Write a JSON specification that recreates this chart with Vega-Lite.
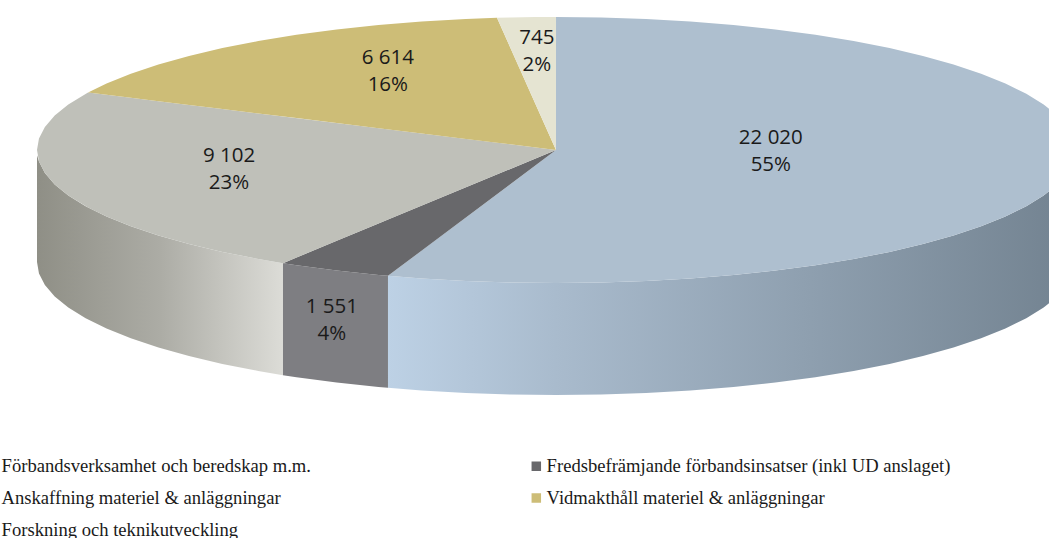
{"$schema":"https://vega.github.io/schema/vega-lite/v6.json","width":1049,"height":538,"padding":0,"autosize":{"type":"none"},"background":"white","config":{"view":{"stroke":null}},
"datasets":{
"faces":[
{"part":"Förbandsverksamhet och beredskap m.m.","x":-32.37,"y":-94.6,"y2":-94.6},{"part":"Förbandsverksamhet och beredskap m.m.","x":-25.88,"y":-75.6,"y2":-96.59},{"part":"Förbandsverksamhet och beredskap m.m.","x":-17.36,"y":-50.7,"y2":-98.48},{"part":"Förbandsverksamhet och beredskap m.m.","x":-8.72,"y":-25.5,"y2":-99.62},{"part":"Förbandsverksamhet och beredskap m.m.","x":0,"y":0,"y2":-100},{"part":"Förbandsverksamhet och beredskap m.m.","x":0.01,"y":100,"y2":-100},{"part":"Förbandsverksamhet och beredskap m.m.","x":8.72,"y":99.62,"y2":-99.62},{"part":"Förbandsverksamhet och beredskap m.m.","x":17.36,"y":98.48,"y2":-98.48},{"part":"Förbandsverksamhet och beredskap m.m.","x":25.88,"y":96.59,"y2":-96.59},{"part":"Förbandsverksamhet och beredskap m.m.","x":34.2,"y":93.97,"y2":-93.97},{"part":"Förbandsverksamhet och beredskap m.m.","x":42.26,"y":90.63,"y2":-90.63},{"part":"Förbandsverksamhet och beredskap m.m.","x":50,"y":86.6,"y2":-86.6},{"part":"Förbandsverksamhet och beredskap m.m.","x":57.36,"y":81.92,"y2":-81.92},{"part":"Förbandsverksamhet och beredskap m.m.","x":64.28,"y":76.6,"y2":-76.6},{"part":"Förbandsverksamhet och beredskap m.m.","x":70.71,"y":70.71,"y2":-70.71},{"part":"Förbandsverksamhet och beredskap m.m.","x":76.6,"y":64.28,"y2":-64.28},{"part":"Förbandsverksamhet och beredskap m.m.","x":81.92,"y":57.36,"y2":-57.36},{"part":"Förbandsverksamhet och beredskap m.m.","x":86.6,"y":50,"y2":-50},{"part":"Förbandsverksamhet och beredskap m.m.","x":90.63,"y":42.26,"y2":-42.26},{"part":"Förbandsverksamhet och beredskap m.m.","x":93.97,"y":34.2,"y2":-34.2},{"part":"Förbandsverksamhet och beredskap m.m.","x":96.59,"y":25.88,"y2":-25.88},{"part":"Förbandsverksamhet och beredskap m.m.","x":100,"y":0,"y2":0},
{"part":"Fredsbefrämjande förbandsinsatser (inkl UD anslaget)","x":-52.6,"y":-85.05,"y2":-85.05},{"part":"Fredsbefrämjande förbandsinsatser (inkl UD anslaget)","x":-50,"y":-80.85,"y2":-86.6},{"part":"Fredsbefrämjande förbandsinsatser (inkl UD anslaget)","x":-42.26,"y":-68.3,"y2":-90.63},{"part":"Fredsbefrämjande förbandsinsatser (inkl UD anslaget)","x":-34.2,"y":-55.3,"y2":-93.97},{"part":"Fredsbefrämjande förbandsinsatser (inkl UD anslaget)","x":-32.37,"y":-52.3,"y2":-94.6},{"part":"Fredsbefrämjande förbandsinsatser (inkl UD anslaget)","x":0,"y":0,"y2":0},
{"part":"Anskaffning materiel & anläggningar","x":-100,"y":0,"y2":0},{"part":"Anskaffning materiel & anläggningar","x":-99.62,"y":8.72,"y2":-8.72},{"part":"Anskaffning materiel & anläggningar","x":-98.48,"y":17.36,"y2":-17.36},{"part":"Anskaffning materiel & anläggningar","x":-96.59,"y":25.88,"y2":-25.88},{"part":"Anskaffning materiel & anläggningar","x":-93.97,"y":34.2,"y2":-34.2},{"part":"Anskaffning materiel & anläggningar","x":-90.17,"y":43.24,"y2":-43.24},{"part":"Anskaffning materiel & anläggningar","x":-86.6,"y":41.53,"y2":-50},{"part":"Anskaffning materiel & anläggningar","x":-81.92,"y":39.28,"y2":-57.36},{"part":"Anskaffning materiel & anläggningar","x":-76.6,"y":36.73,"y2":-64.28},{"part":"Anskaffning materiel & anläggningar","x":-70.71,"y":33.9,"y2":-70.71},{"part":"Anskaffning materiel & anläggningar","x":-64.28,"y":30.82,"y2":-76.6},{"part":"Anskaffning materiel & anläggningar","x":-57.36,"y":27.5,"y2":-81.92},{"part":"Anskaffning materiel & anläggningar","x":-52.6,"y":25.22,"y2":-85.05},{"part":"Anskaffning materiel & anläggningar","x":-40,"y":19.18,"y2":-64.68},{"part":"Anskaffning materiel & anläggningar","x":-20,"y":9.59,"y2":-32.34},{"part":"Anskaffning materiel & anläggningar","x":0,"y":0,"y2":0},
{"part":"Vidmakthåll materiel & anläggningar","x":-90.17,"y":43.24,"y2":43.24},{"part":"Vidmakthåll materiel & anläggningar","x":-86.6,"y":50,"y2":41.53},{"part":"Vidmakthåll materiel & anläggningar","x":-81.92,"y":57.36,"y2":39.28},{"part":"Vidmakthåll materiel & anläggningar","x":-76.6,"y":64.28,"y2":36.73},{"part":"Vidmakthåll materiel & anläggningar","x":-70.71,"y":70.71,"y2":33.9},{"part":"Vidmakthåll materiel & anläggningar","x":-64.28,"y":76.6,"y2":30.82},{"part":"Vidmakthåll materiel & anläggningar","x":-57.36,"y":81.92,"y2":27.5},{"part":"Vidmakthåll materiel & anläggningar","x":-50,"y":86.6,"y2":23.98},{"part":"Vidmakthåll materiel & anläggningar","x":-42.26,"y":90.63,"y2":20.26},{"part":"Vidmakthåll materiel & anläggningar","x":-34.2,"y":93.97,"y2":16.4},{"part":"Vidmakthåll materiel & anläggningar","x":-25.88,"y":96.59,"y2":12.41},{"part":"Vidmakthåll materiel & anläggningar","x":-17.36,"y":98.48,"y2":8.32},{"part":"Vidmakthåll materiel & anläggningar","x":-11.37,"y":99.35,"y2":5.45},{"part":"Vidmakthåll materiel & anläggningar","x":0,"y":0,"y2":0},
{"part":"Forskning och teknikutveckling","x":-11.37,"y":99.35,"y2":99.35},{"part":"Forskning och teknikutveckling","x":-8.72,"y":99.62,"y2":76.2},{"part":"Forskning och teknikutveckling","x":-4,"y":99.92,"y2":34.95},{"part":"Forskning och teknikutveckling","x":0,"y":100,"y2":0}
],
"wallGrey":[{"x":-100,"y":-4,"y2":-84.2},{"x":-99.62,"y":-8.72,"y2":-92.92},{"x":-98.48,"y":-17.36,"y2":-101.56},{"x":-96.59,"y":-25.88,"y2":-110.08},{"x":-93.97,"y":-34.2,"y2":-118.4},{"x":-90.63,"y":-42.26,"y2":-126.46},{"x":-86.6,"y":-50,"y2":-134.2},{"x":-81.92,"y":-57.36,"y2":-141.56},{"x":-76.6,"y":-64.28,"y2":-148.48},{"x":-70.71,"y":-70.71,"y2":-154.91},{"x":-64.28,"y":-76.6,"y2":-160.8},{"x":-57.36,"y":-81.92,"y2":-166.12},{"x":-52.6,"y":-85.05,"y2":-169.25}],
"wallDark":[{"x":-52.6,"y":-85.05,"y2":-169.25},{"x":-50,"y":-86.6,"y2":-170.8},{"x":-42.26,"y":-90.63,"y2":-174.83},{"x":-34.2,"y":-93.97,"y2":-178.17},{"x":-32.37,"y":-94.6,"y2":-178.8}],
"wallBlue":[{"x":-32.37,"y":-94.6,"y2":-178.8},{"x":-25.88,"y":-96.59,"y2":-180.79},{"x":-17.36,"y":-98.48,"y2":-182.68},{"x":-8.72,"y":-99.62,"y2":-183.82},{"x":0,"y":-100,"y2":-184.2},{"x":8.72,"y":-99.62,"y2":-183.82},{"x":17.36,"y":-98.48,"y2":-182.68},{"x":25.88,"y":-96.59,"y2":-180.79},{"x":34.2,"y":-93.97,"y2":-178.17},{"x":42.26,"y":-90.63,"y2":-174.83},{"x":50,"y":-86.6,"y2":-170.8},{"x":57.36,"y":-81.92,"y2":-166.12},{"x":64.28,"y":-76.6,"y2":-160.8},{"x":70.71,"y":-70.71,"y2":-154.91},{"x":76.6,"y":-64.28,"y2":-148.48},{"x":81.92,"y":-57.36,"y2":-141.56},{"x":86.6,"y":-50,"y2":-134.2},{"x":90.63,"y":-42.26,"y2":-126.46},{"x":93.97,"y":-34.2,"y2":-118.4},{"x":96.59,"y":-25.88,"y2":-110.08}],
"labels":[{"label":"22 020\n55%","x":41.4,"y":8.8},{"label":"6 614\n16%","x":-32.4,"y":69.2},{"label":"9 102\n23%","x":-63,"y":-4.5},{"label":"745\n2%","x":-3.7,"y":84},{"label":"1 551\n4%","x":-43.2,"y":-118}]
},
"encoding":{
"x":{"field":"x","type":"quantitative","axis":null,"scale":{"domain":[-107.13,95],"nice":false,"zero":false}},
"y":{"field":"y","type":"quantitative","axis":null,"scale":{"domain":[-291.7,112.78],"nice":false,"zero":false}}
},
"layer":[
{"data":{"name":"wallGrey"},"mark":{"type":"area","fill":{"gradient":"linear","x1":0,"x2":1,"y1":0,"y2":0,"stops":[{"offset":0,"color":"#8f8f86"},{"offset":0.5,"color":"#acaca5"},{"offset":1,"color":"#dcdcd7"}]}},"encoding":{"y2":{"field":"y2"}}},
{"data":{"name":"wallDark"},"mark":{"type":"area","fill":"#7e7e82"},"encoding":{"y2":{"field":"y2"}}},
{"data":{"name":"wallBlue"},"mark":{"type":"area","fill":{"gradient":"linear","x1":0,"x2":1,"y1":0,"y2":0,"stops":[{"offset":0,"color":"#bdd1e5"},{"offset":0.25,"color":"#a9bbcd"},{"offset":1,"color":"#748492"}]}},"encoding":{"y2":{"field":"y2"}}},
{"data":{"name":"faces"},"mark":{"type":"area"},"encoding":{"y2":{"field":"y2"},"color":{"field":"part","type":"nominal","sort":null,"scale":{"domain":["Förbandsverksamhet och beredskap m.m.","Fredsbefrämjande förbandsinsatser (inkl UD anslaget)","Anskaffning materiel & anläggningar","Vidmakthåll materiel & anläggningar","Forskning och teknikutveckling"],"range":["#aebfcf","#68686b","#bfc0b9","#cdbd77","#e5e4d2"]},"legend":{"title":null,"orient":"none","legendX":-18,"legendY":458,"direction":"horizontal","columns":2,"symbolType":"square","symbolSize":90,"symbolOpacity":1,"labelFont":"Liberation Serif","labelFontSize":18.6,"labelColor":"#1a1a1a","labelOffset":1,"labelLimit":600,"rowPadding":13,"columnPadding":216,"clipHeight":16,"gridAlign":"each"}}}},
{"data":{"name":"labels"},"mark":{"type":"text","font":"Open Sans","fontSize":20.5,"lineHeight":27,"lineBreak":"\n","color":"#1a1a1a","align":"center","baseline":"middle"},"encoding":{"text":{"field":"label"}}}
]}
